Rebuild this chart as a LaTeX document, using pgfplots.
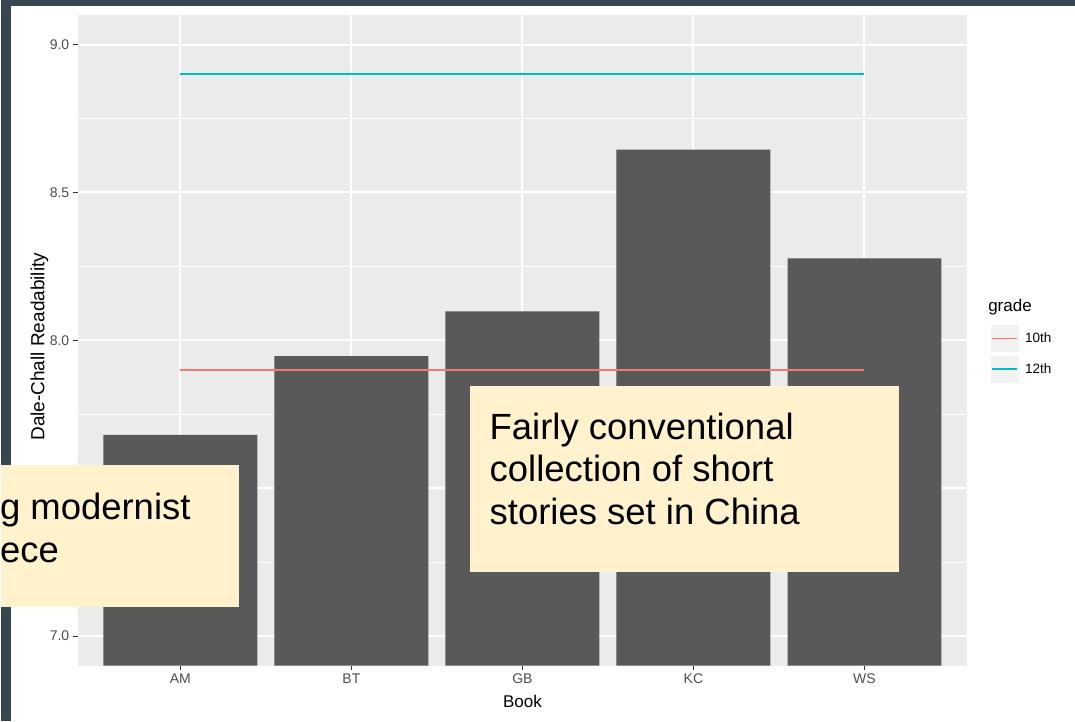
\documentclass[border=0pt]{standalone}
\usepackage{pgfplots}
\pgfplotsset{compat=1.18}
\usepackage{fontspec}
\setmainfont{Liberation Sans}

\definecolor{slate}{RGB}{55,71,79}
\definecolor{panel}{RGB}{235,235,235}
\definecolor{barcol}{RGB}{89,89,89}
\definecolor{tenth}{RGB}{248,118,109}
\definecolor{twelfth}{RGB}{0,191,196}
\definecolor{note}{RGB}{255,242,204}
\definecolor{ticktext}{RGB}{77,77,77}
\definecolor{tickline}{RGB}{51,51,51}
\definecolor{keybg}{RGB}{242,242,242}

\begin{document}
\begin{tikzpicture}
\begin{scope}[x=1pt,y=1pt]
  \fill[slate] (0,0) rectangle (1075,722);
  \fill[white] (10,0) rectangle (1075,716);
  \useasboundingbox (0,0) rectangle (1075,722);
\end{scope}

\begin{axis}[
    at={(77pt,56pt)}, anchor=south west,
    scale only axis, width=890pt, height=651pt,
    xmin=0.4, xmax=5.6, ymin=6.9, ymax=9.1,
    axis background/.style={fill=panel},
    axis line style={draw=none},
    xtick={1,2,3,4,5},
    xticklabels={AM,BT,GB,KC,WS},
    ytick={7,7.5,8,8.5,9},
    minor ytick={7.25,7.75,8.25,8.75},
    xmajorgrids, ymajorgrids, yminorgrids,
    major grid style={white, line width=2pt},
    minor grid style={white, line width=1pt},
    tick pos=left, tick align=outside,
    major tick length=5pt, minor tick length=0pt,
    tick style={draw=tickline, line width=0.8pt},
    /pgf/number format/assume math mode=true,
    yticklabel={\pgfmathprintnumber[fixed,fixed zerofill,precision=1]{\tick}},
    ticklabel style={font=\fontsize{14}{16}\selectfont, text=ticktext},
    xlabel={Book},
    ylabel={Dale-Chall Readability},
    every axis x label/.style={at={(axis description cs:0.5,-0.055)}, anchor=center, font=\fontsize{17}{20}\selectfont},
    every axis y label/.style={at={(axis description cs:-0.043,0.49)}, anchor=center, rotate=90, font=\fontsize{19}{22}\selectfont},
    legend style={at={(rel axis cs:1.0265,0.523)}, anchor=north west, draw=none, fill=none,
      font=\fontsize{13.5}{15}\selectfont, inner sep=0pt, row sep=4pt,
      /tikz/every odd column/.append style={column sep=5pt}},
    legend cell align=left,
]
\addplot[ybar, bar width=0.9, fill=barcol, draw=none, forget plot]
  coordinates {(1,7.68) (2,7.946) (3,8.098) (4,8.645) (5,8.277)};
\addplot[tenth, line width=1.6pt, forget plot] coordinates {(1,7.9) (5,7.9)};
\addplot[twelfth, line width=1.6pt, forget plot] coordinates {(1,8.9) (5,8.9)};
\addlegendimage{legend image code/.code={
    \fill[keybg] (0pt,-13pt) rectangle (27pt,13pt);
    \draw[tenth, line width=1.6pt] (1pt,0pt) -- (26pt,0pt);}}
\addlegendentry{10th}
\addlegendimage{legend image code/.code={
    \fill[keybg] (0pt,-13pt) rectangle (27pt,13pt);
    \draw[twelfth, line width=1.6pt] (1pt,0pt) -- (26pt,0pt);}}
\addlegendentry{12th}
\end{axis}

\begin{scope}[x=1pt,y=1pt]
  \node[anchor=base west, inner sep=0pt, font=\fontsize{17}{20}\selectfont] at (988,410) {grade};
  % annotation boxes
  \fill[note] (0,115) rectangle (238,257);
  \node[anchor=base west, inner sep=0pt, font=\fontsize{36.5}{42.5}\selectfont] at (-1,202) {g modernist};
  \node[anchor=base west, inner sep=0pt, font=\fontsize{36.5}{42.5}\selectfont] at (-1,159) {ece};
  \fill[note] (470,150) rectangle (899,336);
  \node[anchor=base west, inner sep=0pt, font=\fontsize{36.5}{42.5}\selectfont] at (489,282) {Fairly conventional};
  \node[anchor=base west, inner sep=0pt, font=\fontsize{36.5}{42.5}\selectfont] at (489,240) {collection of short};
  \node[anchor=base west, inner sep=0pt, font=\fontsize{36.5}{42.5}\selectfont] at (489,197) {stories set in China};
\end{scope}
\end{tikzpicture}
\end{document}
